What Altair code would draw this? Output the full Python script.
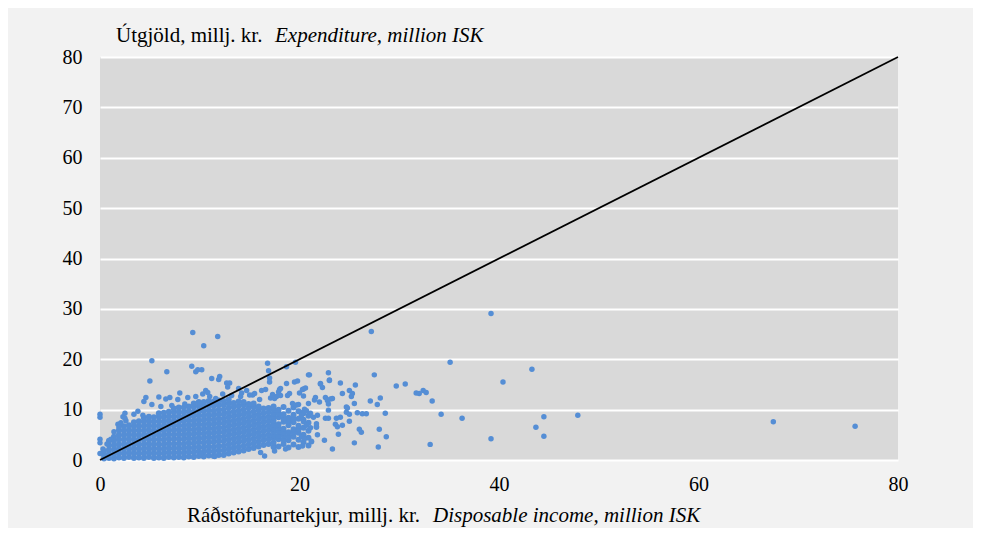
import altair as alt
import pandas as pd

# ---- data ----
# dense core of the cloud, column by column: (income, [expenditures])
core_columns = [
    (0.4, [0.3, 1.0, 1.8]),
    (0.9, [0.4, 1.2, 2.1, 3.0, 3.8]),
    (1.4, [0.3, 1.1, 2.0, 2.9, 3.8, 4.6]),
    (1.9, [0.5, 1.4, 2.3, 3.2, 4.1, 5.0, 5.9]),
    (2.4, [0.4, 1.3, 2.2, 3.1, 4.0, 4.9, 5.8, 6.7]),
    (2.9, [0.6, 1.5, 2.4, 3.3, 4.2, 5.1, 6.0, 6.9]),
    (3.4, [0.4, 1.3, 2.2, 3.1, 4.0, 4.9, 5.8, 6.7, 7.5]),
    (3.9, [0.5, 1.4, 2.3, 3.2, 4.1, 5.0, 5.9, 6.8, 7.7]),
    (4.4, [0.4, 1.3, 2.2, 3.1, 4.0, 4.9, 5.8, 6.7, 7.6, 8.4]),
    (4.9, [0.6, 1.5, 2.4, 3.3, 4.2, 5.1, 6.0, 6.9, 7.8, 8.6]),
    (5.4, [0.4, 1.3, 2.2, 3.1, 4.0, 4.9, 5.8, 6.7, 7.6, 8.5]),
    (5.9, [0.5, 1.4, 2.3, 3.2, 4.1, 5.0, 5.9, 6.8, 7.7, 8.6, 9.3]),
    (6.4, [0.4, 1.3, 2.2, 3.1, 4.0, 4.9, 5.8, 6.7, 7.6, 8.5, 9.4]),
    (6.9, [0.6, 1.5, 2.4, 3.3, 4.2, 5.1, 6.0, 6.9, 7.8, 8.7, 9.6]),
    (7.4, [0.5, 1.4, 2.3, 3.2, 4.1, 5.0, 5.9, 6.8, 7.7, 8.6, 9.5, 10.2]),
    (7.9, [0.6, 1.5, 2.4, 3.3, 4.2, 5.1, 6.0, 6.9, 7.8, 8.7, 9.6, 10.4]),
    (8.4, [0.5, 1.4, 2.3, 3.2, 4.1, 5.0, 5.9, 6.8, 7.7, 8.6, 9.5, 10.4]),
    (8.9, [0.7, 1.6, 2.5, 3.4, 4.3, 5.2, 6.1, 7.0, 7.9, 8.8, 9.7, 10.6]),
    (9.4, [0.6, 1.5, 2.4, 3.3, 4.2, 5.1, 6.0, 6.9, 7.8, 8.7, 9.6, 10.5, 11.2]),
    (9.9, [0.8, 1.7, 2.6, 3.5, 4.4, 5.3, 6.2, 7.1, 8.0, 8.9, 9.8, 10.7, 11.5]),
    (10.4, [0.7, 1.6, 2.5, 3.4, 4.3, 5.2, 6.1, 7.0, 7.9, 8.8, 9.7, 10.6, 11.5]),
    (10.9, [0.9, 1.8, 2.7, 3.6, 4.5, 5.4, 6.3, 7.2, 8.1, 9.0, 9.9, 10.8, 11.7]),
    (11.4, [0.8, 1.7, 2.6, 3.5, 4.4, 5.3, 6.2, 7.1, 8.0, 8.9, 9.8, 10.7, 11.6]),
    (11.9, [1.0, 1.9, 2.8, 3.7, 4.6, 5.5, 6.4, 7.3, 8.2, 9.1, 10.0, 10.9, 11.8]),
    (12.4, [1.0, 1.9, 2.8, 3.7, 4.6, 5.5, 6.4, 7.3, 8.2, 9.1, 10.0, 10.9, 11.7]),
    (12.9, [1.3, 2.2, 3.1, 4.0, 4.9, 5.8, 6.7, 7.6, 8.5, 9.4, 10.3, 11.2, 12.0]),
    (13.4, [1.5, 2.4, 3.3, 4.2, 5.1, 6.0, 6.9, 7.8, 8.7, 9.6, 10.5, 11.3]),
    (13.9, [1.7, 2.6, 3.5, 4.4, 5.3, 6.2, 7.1, 8.0, 8.9, 9.8, 10.7, 11.6]),
    (14.4, [1.9, 2.8, 3.7, 4.6, 5.5, 6.4, 7.3, 8.2, 9.1, 10.0, 10.9, 11.5]),
    (14.9, [2.2, 3.1, 4.0, 4.9, 5.8, 6.7, 7.6, 8.5, 9.4, 10.3, 11.1]),
    (15.4, [2.4, 3.3, 4.2, 5.1, 6.0, 6.9, 7.8, 8.7, 9.6, 10.5, 11.2]),
    (15.9, [2.7, 3.6, 4.5, 5.4, 6.3, 7.2, 8.1, 9.0, 9.9, 10.6]),
    (16.4, [3.0, 3.9, 4.8, 5.7, 6.6, 7.5, 8.4, 9.3, 10.2]),
    (16.9, [3.2, 4.1, 5.0, 5.9, 6.8, 7.7, 8.6, 9.5, 10.3]),
]

# looser part of the cloud between 17 and 21 million
mid_columns = [
    (17.4, [2.6, 3.4, 4.3, 4.9, 5.7, 6.3, 7.1, 7.8, 8.5, 9.2, 10.0, 10.6]),
    (17.9, [2.7, 4.1, 4.8, 5.6, 6.4, 7.1, 8.5, 9.3, 10.0]),
    (18.4, [3.2, 4.0, 4.8, 5.5, 6.2, 7.6, 8.3, 9.1, 10.5]),
    (18.9, [2.5, 3.9, 4.7, 5.5, 6.9, 7.7, 8.4, 9.8]),
    (19.4, [3.1, 4.6, 5.4, 6.1, 7.5, 8.2, 9.0, 10.4]),
    (19.9, [2.6, 4.0, 5.4, 6.1, 6.8, 8.2, 9.7]),
    (20.4, [3.5, 5.0, 6.4, 8.0, 9.3]),
    (20.9, [2.9, 4.4, 5.8, 7.4, 8.8]),
]

# points on the y axis (zero income)
axis_points = [(0.0, 1.3), (0.0, 3.4), (0.0, 4.1), (0.0, 8.5), (0.0, 9.1)]

# fuzzy upper-left edge of the cloud
fringe_points = [
    (4.6, 12.4), (4.4, 11.6), (5.2, 11.0), (5.9, 12.5), (7.0, 12.4), (6.6, 12.1),
    (7.2, 10.8), (6.1, 10.6), (8.0, 13.3), (7.8, 12.0), (8.8, 12.4), (8.5, 11.1),
    (9.6, 12.6), (10.3, 13.1), (10.0, 11.2), (11.0, 12.6), (11.6, 12.2), (11.6, 11.2),
    (3.8, 9.7), (3.4, 9.1), (4.3, 8.9), (2.3, 8.6), (2.1, 7.4), (2.6, 7.8),
    (1.8, 7.1), (1.4, 5.6), (1.1, 4.1), (0.7, 3.2), (0.3, 2.2), (2.5, 9.3),
    (2.5, 8.3), (2.0, 7.1), (1.9, 6.5), (12.3, 13.1), (13.2, 12.8), (14.1, 12.6),
    (15.3, 12.9), (16.2, 13.8), (17.1, 12.3), (18.1, 12.8), (19.0, 13.2),
    (10.1, 1.2), (11.5, 0.7), (16.5, 0.8), (16.1, 1.5), (17.5, 1.8), (18.6, 2.2),
    (19.7, 10.9), (20.4, 9.6), (20.9, 11.2), (21.5, 11.9),
]

# scattered points above the cloud and to the right
outlier_points = [
    (9.3, 25.3), (11.8, 24.5), (10.4, 22.7), (5.2, 19.7), (6.7, 17.5), (5.0, 15.7),
    (9.2, 18.6), (9.6, 17.5), (9.8, 17.9), (10.2, 17.9), (11.2, 16.2), (11.9, 16.0),
    (12.0, 16.6), (12.7, 15.3), (13.0, 15.3), (12.8, 14.5), (10.6, 13.8), (10.8, 13.4),
    (16.8, 19.2), (16.9, 17.7), (17.0, 16.3), (16.6, 14.0), (18.7, 18.5),
    (19.6, 19.4), (20.3, 14.0), (20.0, 13.3), (19.8, 15.7), (18.0, 14.0), (17.9, 13.5),
    (17.3, 13.0), (17.7, 12.6), (18.8, 12.8), (19.3, 11.2), (19.9, 11.0), (15.5, 13.2),
    (16.0, 12.0), (17.5, 12.2), (14.2, 13.3), (15.0, 12.9), (13.9, 14.2), (14.7, 13.8),
    (18.1, 14.2), (17.0, 15.5), (18.7, 15.2), (19.5, 15.5),
    (20.9, 16.9), (20.4, 14.1), (20.6, 14.3), (20.4, 12.7), (20.5, 10.1), (20.7, 9.8),
    (20.2, 8.9), (21.1, 9.3), (21.4, 8.5), (21.8, 8.9), (20.4, 7.6), (20.7, 6.9),
    (21.1, 6.4), (21.7, 6.7), (20.2, 4.6), (20.5, 4.2), (20.3, 2.8), (21.2, 3.6),
    (21.8, 5.0), (22.1, 15.2), (22.3, 14.4), (23.0, 15.9), (24.1, 15.3), (25.0, 13.8),
    (25.2, 12.6), (25.3, 13.2), (24.3, 13.2), (21.6, 12.4), (22.0, 11.5), (22.6, 12.4),
    (22.8, 11.8), (23.1, 12.1), (23.3, 12.2), (22.9, 11.1), (22.9, 9.9), (22.6, 8.3),
    (22.9, 8.3), (23.7, 8.3), (24.1, 8.5), (24.7, 10.5), (24.7, 9.5), (25.0, 9.1),
    (25.0, 7.7), (23.6, 7.1), (23.8, 6.6), (24.3, 6.9), (23.9, 5.1), (22.5, 3.9),
    (23.3, 2.2), (25.5, 3.4), (26.0, 6.1), (26.2, 5.5), (27.1, 11.7), (27.8, 11.0),
    (28.1, 12.3), (28.6, 9.3), (25.8, 9.4), (26.3, 9.2), (26.7, 9.2), (25.5, 11.2),
    (25.6, 14.9), (27.5, 16.9), (29.7, 14.7), (30.6, 15.1), (31.7, 13.3), (32.0, 13.2),
    (32.4, 13.8), (32.7, 13.4), (33.3, 11.7), (28.0, 6.1), (28.7, 4.6), (27.9, 2.6),
    (22.9, 17.3), (21.0, 16.9), (23.0, 15.8), (22.1, 15.1), (27.2, 25.5),
    (35.1, 19.4), (43.3, 18.0), (40.4, 15.5), (34.2, 9.1), (36.3, 8.3), (44.5, 8.6),
    (47.9, 8.9), (43.7, 6.5), (44.5, 4.7), (33.1, 3.1), (39.2, 4.2), (39.2, 29.1),
    (67.5, 7.6), (75.7, 6.7), (21.7, 6.5), (21.7, 7.2), (21.2, 3.7), (24.8, 10.3),
]

# 45-degree reference line
diag_x = [0, 80]
diag_y = [0, 80]

x_ticks = [0, 20, 40, 60, 80]
y_ticks = [0, 10, 20, 30, 40, 50, 60, 70, 80]

y_title_regular = "Útgjöld, millj. kr."
y_title_italic = "Expenditure, million ISK"
x_title_regular = "Ráðstöfunartekjur, millj. kr."
x_title_italic = "Disposable income, million ISK"

# ---- build tables ----
core_rows = []
for cx, ys in core_columns + mid_columns:
    for cy in ys:
        core_rows.append((cx, cy))
core = pd.DataFrame(core_rows, columns=["x", "y"])
loose = pd.DataFrame(axis_points + fringe_points + outlier_points, columns=["x", "y"])
diag = pd.DataFrame({"x": diag_x, "y": diag_y})

FONT = "Liberation Serif, Times New Roman, serif"
TFS = 21
LFS = 20
W, H = 798, 403
BLUE = "#558ed5"

xscale = alt.Scale(domain=[0, 80], nice=False, zero=False)
yscale = alt.Scale(domain=[0, 80], nice=False, zero=False)

x_enc = alt.X("x:Q", scale=xscale, axis=alt.Axis(
    values=x_ticks, grid=False, domain=False, ticks=False, title=None,
    labelFlush=False, labelPadding=14, labelFont=FONT, labelFontSize=LFS,
    labelColor="black"))
y_enc = alt.Y("y:Q", scale=yscale, axis=alt.Axis(
    values=y_ticks, grid=True, gridColor="white", gridWidth=2, domain=False,
    ticks=False, title=None, labelPadding=18, labelFont=FONT,
    labelFontSize=LFS, labelColor="black"))

core_layer = alt.Chart(core).mark_circle(size=36, color=BLUE, opacity=1).encode(
    x=x_enc, y=y_enc)
loose_layer = alt.Chart(loose).mark_circle(size=30, color=BLUE, opacity=1).encode(
    x=alt.X("x:Q", scale=xscale), y=alt.Y("y:Q", scale=yscale))

line = alt.Chart(diag).mark_line(color="black", strokeWidth=1.8).encode(
    x=alt.X("x:Q", scale=xscale), y=alt.Y("y:Q", scale=yscale)
)


def label(text, px, py, italic):
    df = pd.DataFrame({"t": [text]})
    return alt.Chart(df).mark_text(
        align="left", baseline="alphabetic", font=FONT, fontSize=TFS,
        fontStyle="italic" if italic else "normal", color="black",
    ).encode(text="t:N", x=alt.value(px), y=alt.value(py))


titles = (
    label(y_title_regular, 16, -15, False)
    + label(y_title_italic, 175, -15, True)
    + label(x_title_regular, 87, 465, False)
    + label(x_title_italic, 333, 465, True)
)

chart = (
    alt.layer(core_layer, loose_layer, line, titles)
    .properties(
        width=W, height=H,
        background="#f2f2f2",
        padding={"left": 92, "top": 49, "right": 75, "bottom": 68},
        autosize=alt.AutoSizeParams(type="none"),
    )
    .configure_view(fill="#d9d9d9", stroke=None)
    .configure_axis(labelFont=FONT, labelFontSize=LFS, labelColor="black")
)

chart.save("out.html", embed_options={"renderer": "svg", "actions": False})
